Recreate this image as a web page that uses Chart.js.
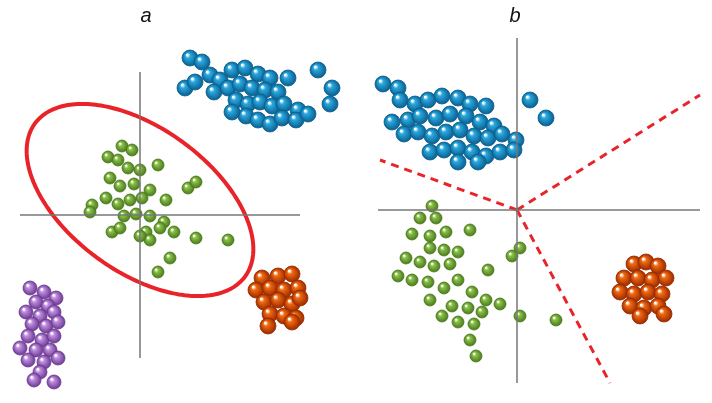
<!DOCTYPE html>
<html><head><meta charset="utf-8">
<script src="https://cdn.jsdelivr.net/npm/chart.js@4/dist/chart.umd.min.js"></script>
<style>html,body{margin:0;padding:0;background:#fff}#w{width:712px;height:403px}</style>
</head><body><div id="w"><canvas id="c"></canvas></div>
<script>
const blueA=[[190,58],[202,62],[185,88],[195,82],[210,75],[220,80],[232,70],[245,68],[258,74],[270,78],[288,78],[318,70],[332,88],[214,92],[228,88],[240,84],[252,88],[265,90],[278,92],[236,100],[248,104],[260,102],[272,106],[284,104],[298,110],[246,116],[258,120],[270,124],[282,118],[296,120],[308,114],[330,104],[232,112]];
const greenA=[[122,146],[132,150],[108,157],[118,160],[128,168],[140,170],[158,165],[110,178],[120,186],[134,184],[150,190],[188,188],[196,182],[92,205],[106,198],[118,204],[130,200],[142,198],[166,200],[124,216],[136,214],[150,216],[164,222],[112,232],[120,228],[146,232],[160,228],[174,232],[196,238],[228,240],[150,240],[140,236],[170,258],[158,272],[90,212]];
const purple=[[30,288],[44,292],[56,298],[36,302],[48,306],[26,312],[40,316],[54,312],[32,324],[46,326],[58,322],[28,336],[42,340],[54,336],[20,348],[36,350],[50,350],[28,360],[44,362],[58,358],[40,372],[54,382],[34,380]];
const orangeA=[[262,278],[278,276],[292,274],[256,290],[270,288],[284,290],[298,288],[264,302],[278,300],[292,304],[300,298],[270,314],[284,316],[296,318],[268,326],[292,322]];
const blueB=[[383,84],[398,88],[400,100],[415,104],[428,100],[442,96],[458,98],[470,104],[486,106],[392,122],[408,120],[420,116],[436,118],[450,114],[466,116],[480,122],[494,126],[530,100],[546,118],[404,134],[418,132],[432,136],[446,132],[460,130],[474,136],[488,138],[502,134],[516,140],[430,152],[444,150],[458,148],[472,152],[486,156],[500,152],[514,150],[458,162],[478,162]];
const greenB=[[420,218],[432,206],[436,218],[412,234],[430,236],[446,232],[470,230],[430,248],[444,250],[458,252],[406,258],[420,262],[434,266],[450,264],[488,270],[512,256],[520,248],[398,276],[412,280],[428,282],[444,288],[458,280],[472,292],[452,306],[468,308],[482,312],[500,304],[430,300],[442,316],[458,322],[474,324],[520,316],[556,320],[470,340],[476,356],[486,300]];
const orangeB=[[634,264],[646,262],[658,266],[624,278],[638,278],[652,280],[666,278],[620,292],[634,294],[648,292],[662,294],[630,306],[644,308],[658,306],[640,316],[664,314]];
const axes=[ [[140,72],[140,358]], [[20,215],[300,215]], [[517,38],[517,383]], [[378,210],[700,210]] ];
const dashes=[ [[517,210],[380,160]], [[517,210],[700,95]], [[517,210],[610,383]] ];

function sphere(col,dark,r){const c=document.createElement('canvas');const s=r*2+2;c.width=s;c.height=s;const x=c.getContext('2d');
 const g=x.createRadialGradient(s/2-r*0.35,s/2-r*0.4,r*0.1,s/2,s/2,r);g.addColorStop(0,'#ffffff');g.addColorStop(0.25,col);g.addColorStop(1,dark);
 x.fillStyle=g;x.beginPath();x.arc(s/2,s/2,r,0,Math.PI*2);x.fill();x.strokeStyle=dark;x.lineWidth=0.8;x.stroke();return c;}
function pts(a){return a.map(p=>({x:p[0],y:p[1]}));}
const ell=[];{const cx=140,cy=200,a=130,b=72,t=36*Math.PI/180;for(let i=0;i<=122;i++){const u=i/120*2*Math.PI;const px=a*Math.cos(u),py=b*Math.sin(u);ell.push({x:cx+px*Math.cos(t)-py*Math.sin(t),y:cy+px*Math.sin(t)+py*Math.cos(t)});}}
const ds=[];
axes.forEach(l=>ds.push({type:'line',data:pts(l),borderColor:'#777',borderWidth:1.5,pointRadius:0,clip:false}));
dashes.forEach(l=>ds.push({type:'line',data:pts(l),borderColor:'#e8242a',borderWidth:3,borderDash:[8,6],pointRadius:0,clip:false}));
ds.push({type:'line',data:ell,borderColor:'#e8242a',borderWidth:4,pointRadius:0,tension:0.01,clip:false,borderCapStyle:'round',borderJoinStyle:'round'});
const sp=[[blueA,'#29a8e0','#0b5f8e',8],[greenA,'#8cc24a','#4a7a1c',6],[purple,'#c08fe0','#6c3a92',7],[orangeA,'#f06a10','#9a2a00',8],[blueB,'#29a8e0','#0b5f8e',8],[greenB,'#8cc24a','#4a7a1c',6],[orangeB,'#f06a10','#9a2a00',8]];
sp.forEach(s=>ds.push({type:'scatter',data:pts(s[0]),pointStyle:sphere(s[1],s[2],s[3]),pointRadius:s[3],clip:false}));
new Chart(document.getElementById('c'),{data:{datasets:ds},options:{animation:false,responsive:true,maintainAspectRatio:false,layout:{padding:0,autoPadding:false},
 plugins:{legend:{display:false},tooltip:{enabled:false}},
 scales:{x:{type:'linear',min:0,max:712,display:false},y:{type:'linear',min:0,max:403,reverse:true,display:false}}},
 plugins:[{id:'lbl',afterDraw(c){const x=c.ctx,sx=c.scales.x,sy=c.scales.y;x.save();x.fillStyle='#111';x.font='italic 20px "Liberation Sans"';x.textAlign='center';x.textBaseline='middle';
 x.fillText('a',sx.getPixelForValue(146),sy.getPixelForValue(16));x.fillText('b',sx.getPixelForValue(515),sy.getPixelForValue(16));x.restore();}}]});
</script></body></html>
